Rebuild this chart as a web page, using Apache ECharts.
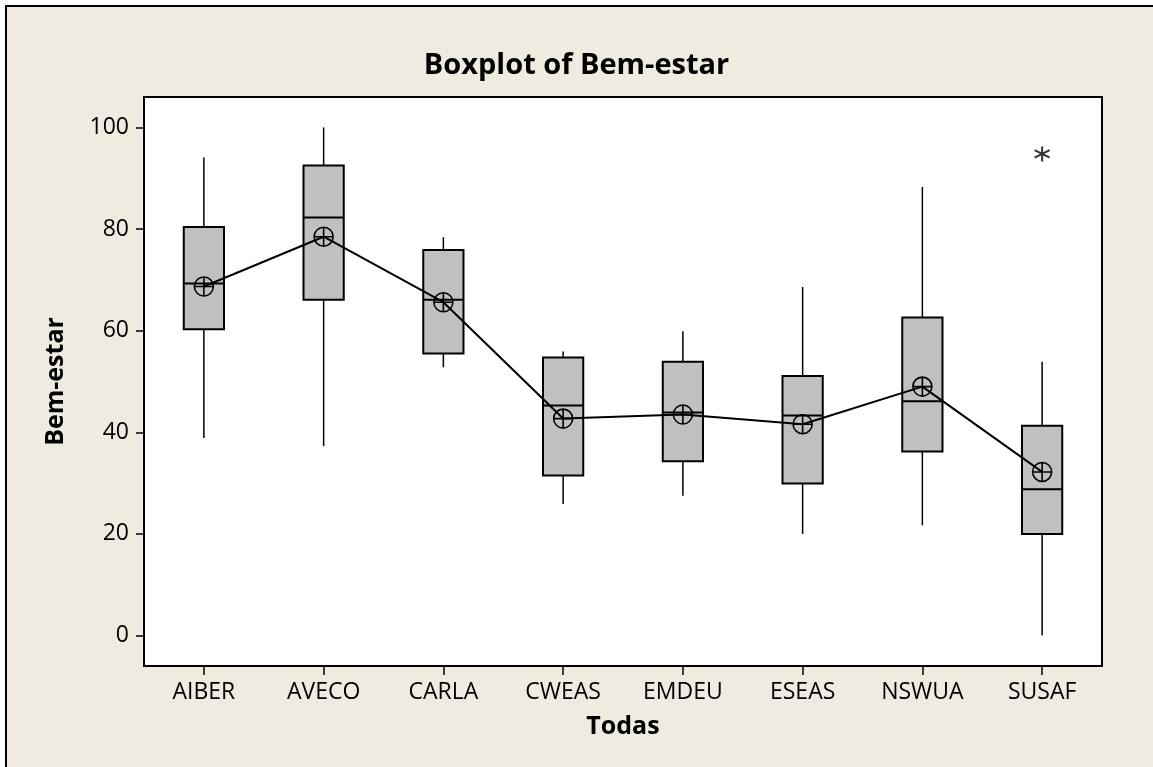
<!DOCTYPE html>
<html>
<head>
<meta charset="utf-8">
<title>Boxplot of Bem-estar</title>
<script src="https://cdn.jsdelivr.net/npm/echarts@6/dist/echarts.min.js"></script>
<style>
  html, body { margin: 0; padding: 0; background: #fff; }
  #chart { width: 1153px; height: 767px; }
</style>
</head>
<body>
<div id="chart"></div>
<script>
// dados
const categories = ['AIBER', 'AVECO', 'CARLA', 'CWEAS', 'EMDEU', 'ESEAS', 'NSWUA', 'SUSAF']
const whiskerLow = [38.9, 37.3, 52.8, 25.9, 27.5, 20.0, 21.7, 0]
const q1 = [60.3, 66.1, 55.5, 31.5, 34.3, 29.9, 36.2, 20.0]
const median = [69.3, 82.3, 66.1, 45.3, 43.9, 43.3, 46.1, 28.8]
const q3 = [80.4, 92.5, 75.9, 54.7, 53.9, 51.1, 62.6, 41.3]
const whiskerHigh = [94.1, 100, 78.4, 55.9, 59.9, 68.6, 88.3, 53.9]
const means = [68.7, 78.5, 65.6, 42.7, 43.5, 41.6, 49.0, 32.2]
const outliers = [['SUSAF', 94.8]]
const yTicks = [0, 20, 40, 60, 80, 100]

const FONT = 'Open Sans'
const boxData = categories.map((c, i) => [i, whiskerLow[i], q1[i], median[i], q3[i], whiskerHigh[i]])

// caixa estilo Minitab: sem traço nas pontas dos bigodes
function renderBox (params, api) {
  const x = api.value(0)
  const lo = api.coord([x, api.value(1)])
  const b1 = api.coord([x, api.value(2)])
  const md = api.coord([x, api.value(3)])
  const b3 = api.coord([x, api.value(4)])
  const hi = api.coord([x, api.value(5)])
  const half = api.size([1, 0])[0] * 0.168
  const thin = { stroke: '#000', lineWidth: 1.5 }
  return {
    type: 'group',
    children: [
      { type: 'line', shape: { x1: lo[0], y1: lo[1], x2: b1[0], y2: b1[1] }, style: thin },
      { type: 'line', shape: { x1: b3[0], y1: b3[1], x2: hi[0], y2: hi[1] }, style: thin },
      {
        type: 'rect',
        shape: { x: b3[0] - half, y: b3[1], width: half * 2, height: b1[1] - b3[1] },
        style: { fill: '#C0C0C0', stroke: '#000', lineWidth: 2 }
      },
      { type: 'line', shape: { x1: md[0] - half, y1: md[1], x2: md[0] + half, y2: md[1] }, style: { stroke: '#000', lineWidth: 2 } }
    ]
  }
}

const option = {
  backgroundColor: '#fff',
  animation: false,
  graphic: [
    {
      type: 'rect',
      z: -100,
      shape: { x: 6, y: 6, width: 1300, height: 900 },
      style: { fill: '#EFEBE0', stroke: '#000', lineWidth: 2 },
      silent: true
    }
  ],
  title: {
    text: 'Boxplot of Bem-estar',
    left: 'center',
    top: 46,
    textStyle: { fontFamily: FONT, fontWeight: 'bold', fontSize: 29, color: '#000' }
  },
  grid: {
    left: 144,
    right: 51,
    top: 97,
    bottom: 101,
    show: true,
    backgroundColor: '#fff',
    borderColor: '#000',
    borderWidth: 2
  },
  xAxis: {
    type: 'category',
    data: categories,
    name: 'Todas',
    nameLocation: 'middle',
    nameGap: 48,
    nameTextStyle: { fontFamily: FONT, fontWeight: 'bold', fontSize: 25, color: '#000' },
    axisLine: { show: true, onZero: false, lineStyle: { color: '#000', width: 2 } },
    axisTick: { show: true, alignWithLabel: true, length: 9, lineStyle: { color: '#000', width: 1.5 } },
    axisLabel: { fontFamily: FONT, fontSize: 23, color: '#000', margin: 15 },
    splitLine: { show: false }
  },
  yAxis: {
    type: 'value',
    min: -6,
    max: 106,
    name: 'Bem-estar',
    nameLocation: 'middle',
    nameGap: 76,
    nameTextStyle: { fontFamily: FONT, fontWeight: 'bold', fontSize: 25, color: '#000' },
    axisLine: { show: true, onZero: false, lineStyle: { color: '#000', width: 2 } },
    axisTick: { show: true, length: 8, customValues: yTicks, lineStyle: { color: '#000', width: 1.5 } },
    axisLabel: { fontFamily: FONT, fontSize: 23, color: '#000', margin: 15, customValues: yTicks },
    splitLine: { show: false }
  },
  series: [
    {
      type: 'custom',
      name: 'box',
      renderItem: renderBox,
      encode: { x: 0, y: [1, 2, 3, 4, 5] },
      data: boxData,
      z: 2
    },
    {
      type: 'line',
      name: 'média',
      data: means,
      symbol: 'path://M0,-10A10,10 0 1,1 0,10A10,10 0 1,1 0,-10ZM-10,0L10,0M0,-10L0,10',
      symbolSize: 19,
      lineStyle: { color: '#000', width: 2 },
      itemStyle: { color: 'rgba(0,0,0,0)', borderColor: '#000', borderWidth: 1.6 },
      z: 3
    },
    {
      type: 'scatter',
      name: 'outlier',
      data: outliers,
      symbol: 'path://M0,-7L0,7M-6,-3.5L6,3.5M-6,3.5L6,-3.5',
      symbolSize: 15,
      itemStyle: { color: 'rgba(0,0,0,0)', borderColor: '#000', borderWidth: 2 },
      z: 3
    }
  ]
}

const chart = echarts.init(document.getElementById('chart'))
chart.setOption(option)
</script>
</body>
</html>
